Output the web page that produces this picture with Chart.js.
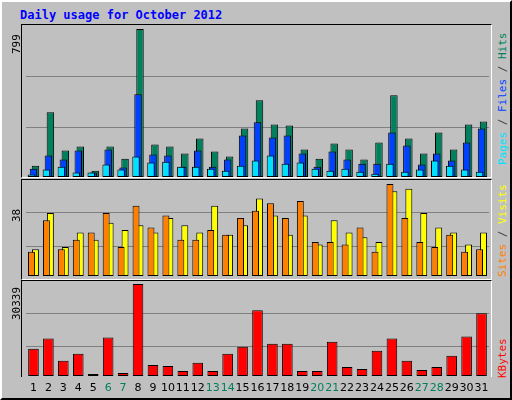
<!DOCTYPE html>
<html>
<head>
<meta charset="utf-8">
<script src="https://cdn.jsdelivr.net/npm/chart.js@4"></script>
<style>
  body { margin: 0; background: #fff; }
  #frame { position: relative; width: 508px; height: 396px; background: #c0c0c0;
    border: 2px solid; border-color: #fff #000 #000 #fff; font-family: "DejaVu Sans", sans-serif; }
  .panel { position: absolute; left: 19px; width: 469px; border-top: 1px solid #000; border-left: 1px solid #000;
    border-right: 1px solid #fff; border-bottom: 1px solid #fff; }
  .panel canvas { position: absolute; left: 0; top: 0; }
  #title { position: absolute; left: 18px; top: 6px; font: bold 12px "DejaVu Sans Mono", monospace; color: #0000ff; }
  .rot { position: absolute; transform-origin: 0 0; transform: rotate(-90deg); white-space: nowrap;
    font: 11px "DejaVu Sans Mono", monospace; }
  .sl { color: #404040; }
</style>
</head>
<body>
<div id="frame">
  <div id="title">Daily usage for October 2012</div>
  <div class="panel" style="top:22px;height:152px"><canvas id="c1" width="469" height="152"></canvas></div>
  <div class="panel" style="top:177px;height:99px"><canvas id="c2" width="469" height="99"></canvas></div>
  <div class="panel" style="top:278px;height:96px;border-bottom:none"><canvas id="c3" width="469" height="115"></canvas></div>
  <div class="rot" style="left:8px;top:52px;color:#000">799</div>
  <div class="rot" style="left:8px;top:220px;color:#000">38</div>
  <div class="rot" style="left:8px;top:318px;color:#000">30339</div>
  <div class="rot" style="left:494px;top:163px"><span style="color:#00e0ff">Pages</span><span class="sl"> / </span><span style="color:#0040ff">Files</span><span class="sl"> / </span><span style="color:#00805c">Hits</span></div>
  <div class="rot" style="left:494px;top:275px"><span style="color:#ff8000">Sites</span><span class="sl"> / </span><span style="color:#ffff00">Visits</span></div>
  <div class="rot" style="left:494px;top:376px;color:#ff0000">KBytes</div>
</div>
<script>
// Data
const days = ['1','2','3','4','5','6','7','8','9','10','11','12','13','14','15','16',
  '17','18','19','20','21','22','23','24','25','26','27','28','29','30','31'];
const weekends = ['6','7','13','14','20','21','27','28'];
const hits = [61,349,143,165,34,165,99,799,175,165,127,208,137,110,262,414,284,278,148,99,181,148,94,186,441,208,127,240,148,284,300];
const files = [45,116,94,143,24,148,51,447,121,116,56,143,56,94,224,295,213,224,127,56,137,94,72,72,240,170,67,127,89,186,262];
const pages = [13,40,56,24,24,67,40,110,78,83,56,56,45,34,61,89,116,72,78,45,34,45,29,18,72,29,40,89,61,40,29];
const sites = [10,23,11,15,18,26,12,29,20,25,15,15,19,17,24,27,30,24,31,14,14,13,20,10,38,24,14,12,17,10,11];
const visits = [11,26,12,18,15,22,19,21,18,24,21,18,29,17,21,32,25,17,25,13,23,18,16,14,35,36,26,20,18,13,18];
const kbytes = [9000,12333,5000,7333,667,12667,1000,30339,3667,3333,1667,4333,1667,7333,9667,21667,10667,10667,1667,1667,11333,3000,2333,8333,12333,5000,2000,3000,6667,13000,20667];
const maxes = [799, 38, 30339];

Chart.defaults.animation = false;

// lower order = drawn on top, so the right-hand bar covers the left one
function bar(label, data, color, order) {
    return { label, data, order, backgroundColor: color, borderColor: '#000', borderWidth: 1, borderSkipped: false };
}

function makeChart(id, datasets, max, cat, bp, padding, fractions, extraPlugins) {
    return new Chart(document.getElementById(id), {
        type: 'bar',
        data: { labels: days, datasets },
        options: {
            responsive: false,
            devicePixelRatio: 1,
            layout: { padding },
            datasets: { bar: { categoryPercentage: cat, barPercentage: bp } },
            plugins: { legend: { display: false }, tooltip: { enabled: false } },
            scales: {
                x: { display: false },
                y: {
                    min: 0, max,
                    border: { display: false },
                    ticks: { display: false },
                    grid: { color: '#808080', drawTicks: false },
                    afterBuildTicks: s => { s.ticks = fractions.map(f => ({ value: max * f })); },
                    afterFit: s => { s.width = 0; }
                }
            }
        },
        plugins: extraPlugins || []
    });
}

// Day labels under the last panel
const dayLabels = {
    id: 'dayLabels',
    afterDraw(chart) {
        const ctx = chart.ctx;
        const xs = chart.scales.x;
        ctx.save();
        ctx.font = '11px "DejaVu Sans", sans-serif';
        ctx.textAlign = 'center';
        days.forEach((d, i) => {
            ctx.fillStyle = weekends.includes(d) ? '#00805c' : '#000';
            ctx.fillText(d, xs.getPixelForValue(i), chart.chartArea.bottom + 15);
        });
        ctx.restore();
    }
};

makeChart('c1', [bar('Hits', hits, '#00805c', 3), bar('Files', files, '#0040ff', 2), bar('Pages', pages, '#00e0ff', 1)],
    maxes[0], 0.4, 3.75, { top: 4, bottom: 0, left: 4, right: 2 }, [0.334, 0.677]);
makeChart('c2', [bar('Visits', visits, '#ffff00', 2), bar('Sites', sites, '#ff8000', 1)],
    maxes[1], 0.53, 1.75, { top: 4, bottom: 3, left: 4, right: 2 }, [0.326, 0.685]);
makeChart('c3', [bar('KBytes', kbytes, '#ff0000', 1)],
    maxes[2], 1, 0.71, { top: 3, bottom: 20, left: 4, right: 2 }, [0.319, 0.68], [dayLabels]);
</script>
</body>
</html>
